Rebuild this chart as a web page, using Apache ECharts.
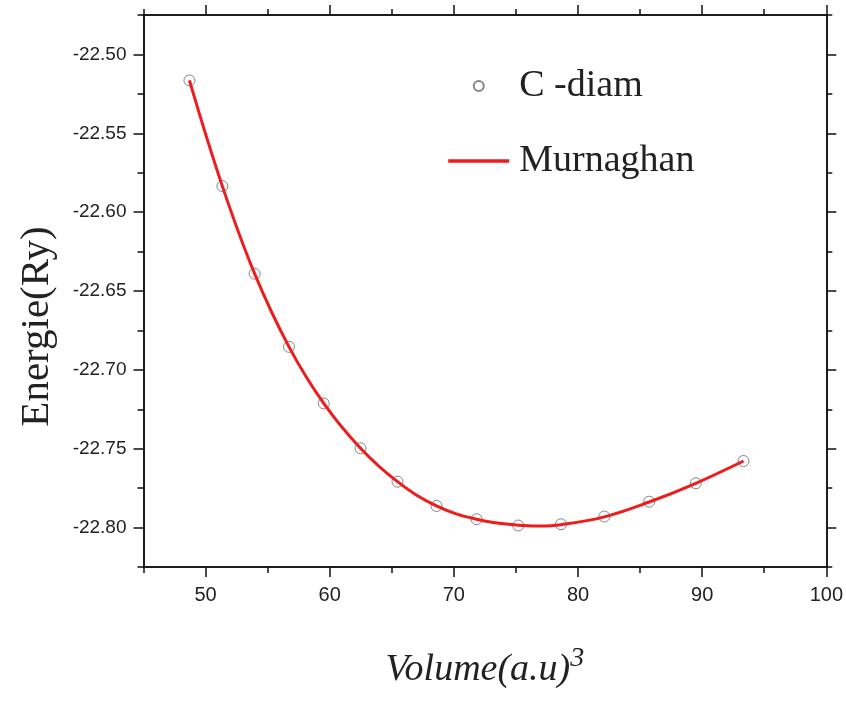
<!DOCTYPE html>
<html>
<head>
<meta charset="utf-8">
<script src="https://cdn.jsdelivr.net/npm/echarts@6/dist/echarts.min.js"></script>
<style>
html,body{margin:0;padding:0;background:#fff;}
#chart{width:846px;height:701px;}
</style>
</head>
<body>
<div id="chart"></div>
<script>
// Measured data points (C -diam)
const volumes = [48.7, 51.35, 53.95, 56.72, 59.52, 62.48, 65.46, 68.6, 71.83, 75.19, 78.63, 82.12, 85.73, 89.49, 93.33];
const energies = [-22.5165, -22.5835, -22.639, -22.6854, -22.7213, -22.7497, -22.7709, -22.7863, -22.7947, -22.7987, -22.7979, -22.793, -22.7836, -22.7719, -22.7578];
// Murnaghan fit curve
const fitVolumes = [48.7, 51.35, 53.95, 56.72, 59.52, 62.48, 65.46, 68.6, 71.83, 75.19, 76.9, 78.63, 82.12, 85.73, 89.49, 93.33];
const fitEnergies = [-22.5165, -22.5835, -22.639, -22.6854, -22.7213, -22.7497, -22.7709, -22.7863, -22.7947, -22.7985, -22.799, -22.7982, -22.7932, -22.7838, -22.7719, -22.7578];
// Tick labels
const xMajor = [50, 60, 70, 80, 90, 100];
const xMinor = [45, 55, 65, 75, 85, 95];
const yMajor = [-22.80, -22.75, -22.70, -22.65, -22.60, -22.55, -22.50];
const yMinor = [-22.825, -22.775, -22.725, -22.675, -22.625, -22.575, -22.525, -22.475];
const seriesNames = ['C -diam', 'Murnaghan'];

const chart = echarts.init(document.getElementById('chart'), null, {renderer: 'canvas'});
const axisLine = {show: true, onZero: false, lineStyle: {color: '#111', width: 1.5}};
const tickStyle = {color: '#111', width: 1.5};
const X = [45, 100], Y = [-22.825, -22.475];

function xAx(pos, ticks, len, labels, extra) {
  return Object.assign({
    type: 'value', position: pos, min: X[0], max: X[1],
    axisLine: axisLine, splitLine: {show: false},
    axisTick: {show: true, inside: false, length: len, customValues: ticks, lineStyle: tickStyle},
    axisLabel: labels ? {show: true, customValues: labels, margin: 18, color: '#222',
      fontFamily: 'Liberation Sans', fontSize: 20} : {show: false}
  }, extra || {});
}
function yAx(pos, ticks, len, labels, extra) {
  return Object.assign({
    type: 'value', position: pos, min: Y[0], max: Y[1],
    axisLine: axisLine, splitLine: {show: false},
    axisTick: {show: true, inside: false, length: len, customValues: ticks, lineStyle: tickStyle},
    axisLabel: labels ? {show: true, customValues: labels, margin: 17, color: '#222',
      fontFamily: 'Liberation Sans', fontSize: 19,
      formatter: v => Number(v).toFixed(2)} : {show: false}
  }, extra || {});
}

const option = {
  animation: false,
  backgroundColor: '#fff',
  grid: {left: 143.5, right: 19.3, top: 15, bottom: 134, containLabel: false},
  xAxis: [
    xAx('bottom', xMajor, 10, xMajor, {
      name: '{a|Volume(a.u)}{s|3}', nameLocation: 'middle', nameGap: 78,
      nameTextStyle: {
        rich: {
          a: {fontFamily: 'Liberation Serif', fontStyle: 'italic', fontSize: 38, color: '#222', lineHeight: 44, verticalAlign: 'bottom'},
          s: {fontFamily: 'Liberation Serif', fontStyle: 'italic', fontSize: 28, color: '#222', lineHeight: 44, verticalAlign: 'top'}
        }
      }
    }),
    xAx('bottom', xMinor, 6, null),
    xAx('top', xMajor, 10, null),
    xAx('top', xMinor, 6, null)
  ],
  yAxis: [
    yAx('left', yMajor, 10, yMajor, {
      name: 'Energie(Ry)', nameLocation: 'middle', nameGap: 86, nameRotate: 90,
      nameTextStyle: {fontFamily: 'Liberation Serif', fontSize: 41, color: '#222', padding: [0, 71, 0, 0]}
    }),
    yAx('left', yMinor, 6, null),
    yAx('right', yMajor, 10, null),
    yAx('right', yMinor, 6, null)
  ],
  legend: {
    orient: 'vertical', left: 441.5, top: 61, itemWidth: 61, itemHeight: 10, itemGap: 35,
    lineStyle: {width: 3.5, color: '#ee1c1c'},
    textStyle: {fontFamily: 'Liberation Serif', fontSize: 38, color: '#222', lineHeight: 40, padding: [0, 0, 0, 5]},
    data: [
      {name: seriesNames[0], icon: 'circle'},
      {name: seriesNames[1], itemStyle: {opacity: 0}}
    ]
  },
  series: [
    {
      name: seriesNames[0], type: 'scatter', xAxisIndex: 0, yAxisIndex: 0, z: 2,
      symbol: 'circle', symbolSize: 11,
      itemStyle: {color: 'rgba(255,255,255,0)', borderColor: '#666', borderWidth: 1},
      data: volumes.map((v, i) => [v, energies[i]])
    },
    {
      name: seriesNames[1], type: 'line', xAxisIndex: 0, yAxisIndex: 0, z: 3,
      smooth: 0.4, symbol: 'none', showSymbol: false,
      lineStyle: {color: '#ee1c1c', width: 3},
      itemStyle: {color: '#ee1c1c'},
      data: fitVolumes.map((v, i) => [v, fitEnergies[i]])
    }
  ]
};
chart.setOption(option);
</script>
</body>
</html>
